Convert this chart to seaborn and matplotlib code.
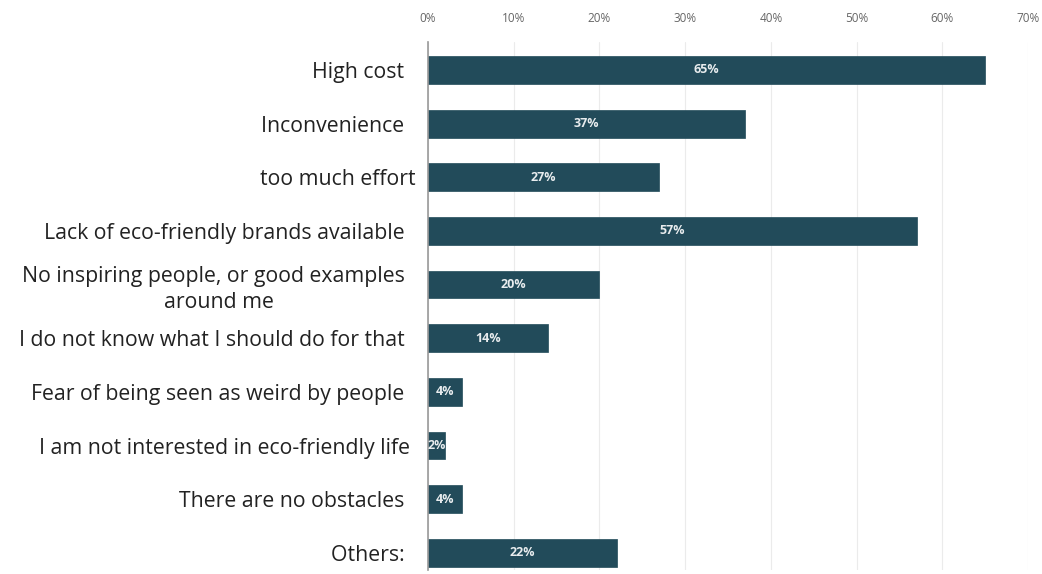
import matplotlib
matplotlib.use("Agg")
import matplotlib.pyplot as plt
import seaborn as sns
import pandas as pd

categories = [
    "High cost  ",
    "Inconvenience  ",
    "too much effort",
    "Lack of eco-friendly brands available  ",
    "No inspiring people, or good examples  \naround me",
    "I do not know what I should do for that  ",
    "Fear of being seen as weird by people  ",
    "I am not interested in eco-friendly life ",
    "There are no obstacles  ",
    "Others:  ",
]
values = [65, 37, 27, 57, 20, 14, 4, 2, 4, 22]
tick_values = [0, 10, 20, 30, 40, 50, 60, 70]
tick_labels = ["0%", "10%", "20%", "30%", "40%", "50%", "60%", "70%"]

df = pd.DataFrame({"category": categories, "value": values})

sns.set_theme(style="white")
plt.rcParams["font.family"] = ["Open Sans", "DejaVu Sans"]

fig = plt.figure(figsize=(10.42, 5.74), dpi=100)
ax = fig.add_axes([428 / 1042, 4 / 574, (1028 - 428) / 1042, (570 - 42) / 574])

bar_color = "#224b5a"
sns.barplot(data=df, x="value", y="category", orient="h", color=bar_color,
            width=0.52, ax=ax, saturation=1, edgecolor=bar_color, linewidth=0.5)

ax.set_xlim(0, 70)
ax.set_ylim(9.32, -0.52)
ax.set_xticks(tick_values)
ax.set_xticklabels(tick_labels)
ax.xaxis.tick_top()
ax.tick_params(axis="x", labelsize=8.5, labelcolor="#666666", length=0, pad=12)
ax.tick_params(axis="y", labelsize=15.3, labelcolor="#222222", length=0, pad=9)
for lbl in ax.get_yticklabels():
    lbl.set_multialignment("center")
    lbl.set_linespacing(1.3)
ax.set_xlabel("")
ax.set_ylabel("")
ax.grid(axis="x", color="#ebebeb", linewidth=0.8)
ax.set_axisbelow(True)
for s in ["top", "right", "bottom"]:
    ax.spines[s].set_visible(False)
ax.spines["left"].set_color("#999999")
ax.spines["left"].set_linewidth(1.2)

for i, v in enumerate(values):
    ax.text(v / 2, i, f"{v}%", ha="center", va="center", color="#e8ecee",
            fontsize=9, fontweight="bold")

fig.savefig("out.png", dpi=100, facecolor="white")
